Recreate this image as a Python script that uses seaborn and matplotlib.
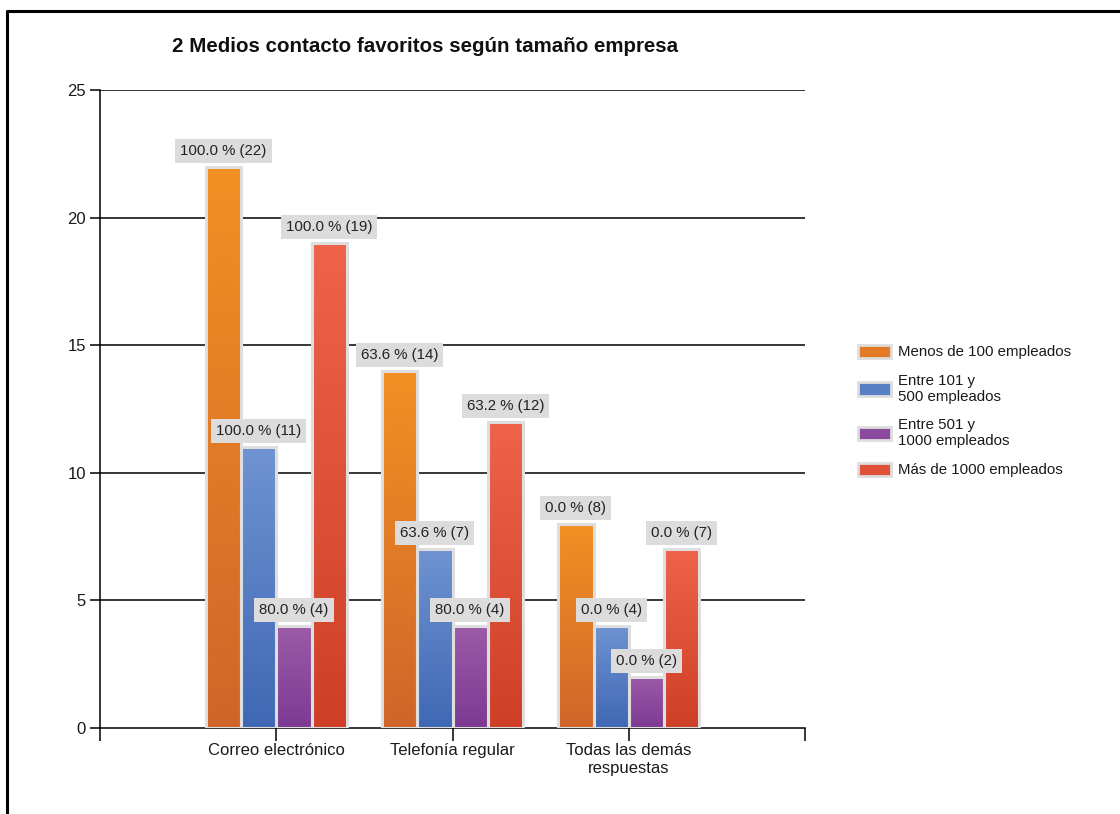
import numpy as np
import pandas as pd
import matplotlib
matplotlib.use("Agg")
import matplotlib.pyplot as plt
from matplotlib.colors import LinearSegmentedColormap
from matplotlib.lines import Line2D
import seaborn as sns

categories = ["Correo electrónico", "Telefonía regular", "Todas las demás\nrespuestas"]
series = ["Menos de 100 empleados", "Entre 101 y\n500 empleados", "Entre 501 y\n1000 empleados", "Más de 1000 empleados"]
counts_menos100 = [22, 14, 8]
counts_101_500 = [11, 7, 4]
counts_501_1000 = [4, 4, 2]
counts_mas1000 = [19, 12, 7]
pct_menos100 = [100.0, 63.6, 0.0]
pct_101_500 = [100.0, 63.6, 0.0]
pct_501_1000 = [80.0, 80.0, 0.0]
pct_mas1000 = [100.0, 63.2, 0.0]
title = "2 Medios contacto favoritos según tamaño empresa"
yticks = [0, 5, 10, 15, 20, 25]

counts = [counts_menos100, counts_101_500, counts_501_1000, counts_mas1000]
pcts = [pct_menos100, pct_101_500, pct_501_1000, pct_mas1000]
rows = []
for s, cs, ps in zip(series, counts, pcts):
    for c, v, p in zip(categories, cs, ps):
        rows.append({"cat": c, "serie": s, "n": v, "pct": p})
df = pd.DataFrame(rows)

top_colors = ["#F39022", "#6F93D2", "#9C5BA8", "#F0624A"]
bot_colors = ["#D1652A", "#3F68B4", "#7D3A93", "#CF3F27"]
mid_colors = ["#E57A25", "#5780C4", "#8B4A9E", "#E0513A"]

sns.set_theme(style="white")
plt.rcParams["font.family"] = ["Liberation Sans", "DejaVu Sans"]

fig = plt.figure(figsize=(11.2, 8.14), dpi=100)
ax = fig.add_axes([100/1120, 1-728/814, 705/1120, (728-90)/814])

sns.barplot(data=df, x="cat", y="n", hue="serie", hue_order=series, order=categories,
            palette=mid_colors, width=0.8, dodge=True, ax=ax, legend=False,
            edgecolor="#DEDEDE", linewidth=2.2, zorder=3)

# gradient fill inside each bar + value labels
for i, s in enumerate(series):
    cmap = LinearSegmentedColormap.from_list("g%d" % i, [bot_colors[i], top_colors[i]])
    for j, c in enumerate(categories):
        p = ax.patches[i * len(categories) + j]
        x0, w, h = p.get_x(), p.get_width(), p.get_height()
        grad = np.linspace(0, 1, 256).reshape(-1, 1)
        im = ax.imshow(grad, cmap=cmap, origin="lower", aspect="auto",
                       extent=[x0, x0 + w, 0, h], zorder=3.5, interpolation="bilinear")
        im.set_clip_path(p)
        edge = plt.Rectangle((x0, 0), w, h, facecolor="none", edgecolor="#DEDEDE",
                             linewidth=2.2, zorder=4)
        ax.add_patch(edge)
        ax.annotate(f"{pcts[i][j]:.1f} % ({counts[i][j]})", xy=(x0 + w / 2, h),
                    xytext=(0, 16), textcoords="offset pixels",
                    ha="center", va="center", fontsize=10.8, color="#222222", zorder=6,
                    bbox=dict(boxstyle="square,pad=0.33", facecolor="#DCDCDC", edgecolor="none"))

ax.set_xlim(-1, 3)
ax.set_ylim(0, 25)
ax.set_yticks(yticks)
ax.set_xticks(range(len(categories)))
ax.set_xticklabels(categories, fontsize=12, color="#1a1a1a", linespacing=1.25)
ax.set_yticklabels([str(t) for t in yticks], fontsize=12, color="#1a1a1a")
ax.set_xlabel("")
ax.set_ylabel("")
for t in yticks[1:]:
    ax.axhline(t, color="black", linewidth=1.1, zorder=1)
for sp in ["top", "right"]:
    ax.spines[sp].set_visible(False)
for sp in ["left", "bottom"]:
    ax.spines[sp].set_color("black")
    ax.spines[sp].set_linewidth(1.1)
ax.tick_params(axis="y", direction="out", length=7, width=1.1, color="black", left=True, pad=3)
ax.tick_params(axis="x", direction="out", length=9, width=1.1, color="black", bottom=True, pad=2)
ax.set_xticks([-1, 3], minor=True)
ax.tick_params(axis="x", which="minor", direction="out", length=9, width=1.1, color="black", bottom=True)
ax.grid(False)

# legend
handles = [plt.Rectangle((0, 0), 1, 1, facecolor=mid_colors[i], edgecolor="#DEDEDE", linewidth=2)
           for i in range(len(series))]
fig.legend(handles, series, loc="upper left", bbox_to_anchor=(844/1120, 1-331/814),
           frameon=False, fontsize=10.8, handlelength=2.2, handleheight=1.0,
           labelspacing=0.95, handletextpad=0.5, labelcolor="#1a1a1a")

fig.text(425/1120, 1-47/814, title, ha="center", va="center", fontsize=14.8,
         fontweight="bold", color="#111111")

# outer frame (top and left)
fig.add_artist(Line2D([7/1120, 7/1120, 1.0], [0.0, 1-11/814, 1-11/814],
                      transform=fig.transFigure, color="black", linewidth=2.2))

fig.savefig("out.png", dpi=100)
